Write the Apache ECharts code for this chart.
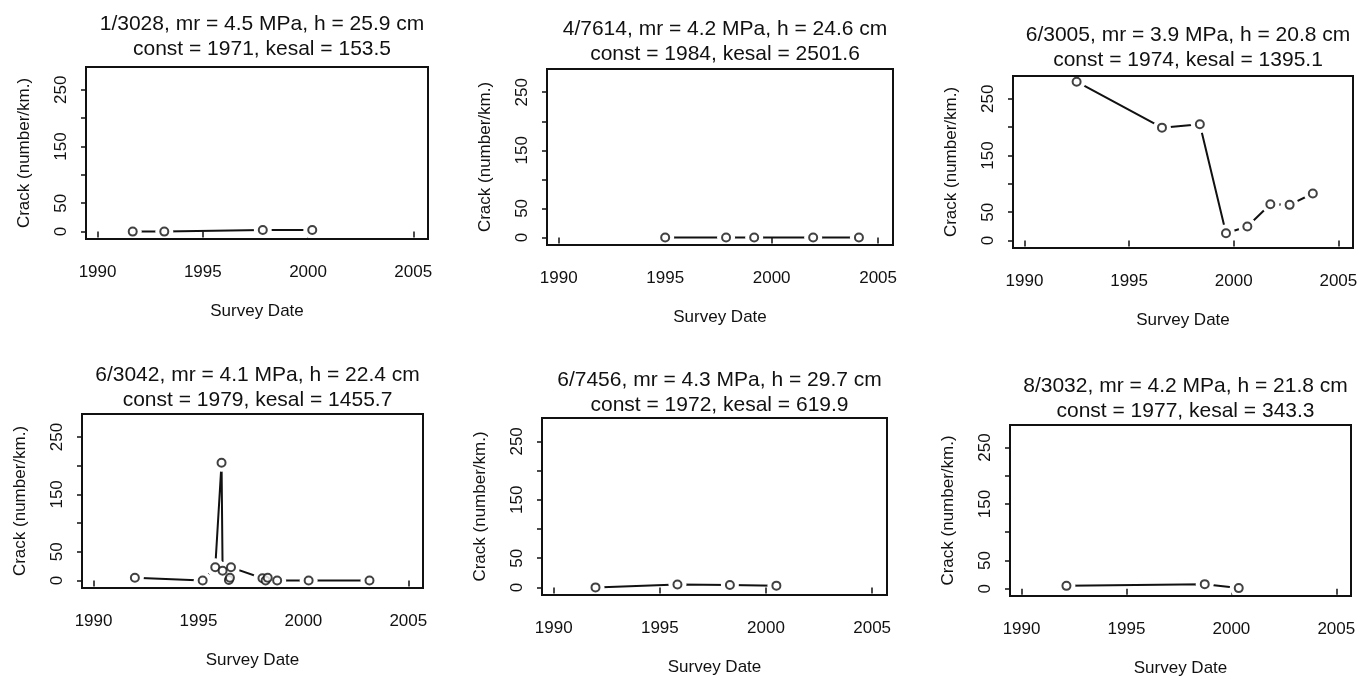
<!DOCTYPE html>
<html>
<head>
<meta charset="utf-8">
<script src="https://cdn.jsdelivr.net/npm/echarts@6/dist/echarts.min.js"></script>
<style>
html,body{margin:0;padding:0;background:#fff;}
#chart{width:1361px;height:678px;}
</style>
</head>
<body>
<div id="chart"></div>
<script>
// ---- data ----
const panelTitles = [
  "1/3028, mr = 4.5 MPa, h = 25.9 cm\nconst = 1971, kesal = 153.5",
  "4/7614, mr = 4.2 MPa, h = 24.6 cm\nconst = 1984, kesal = 2501.6",
  "6/3005, mr = 3.9 MPa, h = 20.8 cm\nconst = 1974, kesal = 1395.1",
  "6/3042, mr = 4.1 MPa, h = 22.4 cm\nconst = 1979, kesal = 1455.7",
  "6/7456, mr = 4.3 MPa, h = 29.7 cm\nconst = 1972, kesal = 619.9",
  "8/3032, mr = 4.2 MPa, h = 21.8 cm\nconst = 1977, kesal = 343.3"
];
const p1Years = [1991.67, 1993.17, 1997.85, 2000.2];
const p1Crack = [0, 0, 3, 3];
const p2Years = [1995.0, 1997.86, 1999.18, 2001.95, 2004.1];
const p2Crack = [0, 0, 0, 0, 0];
const p3Years = [1992.49, 1996.57, 1998.38, 1999.63, 2000.65, 2001.75, 2002.67, 2003.78];
const p3Crack = [280, 199, 205, 13, 25, 64, 63, 83];
const p4Years = [1991.97, 1995.2, 1995.8, 1996.1, 1996.15, 1996.45, 1996.5, 1996.55, 1998.05, 1998.2, 1998.3, 1998.75, 2000.25, 2003.15];
const p4Crack = [5, 0, 23, 205, 17, 1, 5, 23, 4, 0, 5, 0, 0, 0];
const p5Years = [1991.97, 1995.83, 1998.3, 2000.49];
const p5Crack = [0, 5, 4, 3];
const p6Years = [1992.14, 1998.73, 2000.35];
const p6Crack = [5, 8, 1];

const xTickLabels = [1990, 1995, 2000, 2005];
const yTickValues = [0, 50, 100, 150, 200, 250];
const yTickLabels = [0, 50, 150, 250];
const xAxisTitle = "Survey Date";
const yAxisTitle = "Crack (number/km.)";

// ---- layout ----
const gridBoxes = [
  {left: 86,   top: 67,  width: 342, height: 172, titleTop: 7},
  {left: 547,  top: 69,  width: 346, height: 176, titleTop: 12},
  {left: 1013, top: 76,  width: 340, height: 172, titleTop: 18},
  {left: 82,   top: 414, width: 341, height: 174, titleTop: 358},
  {left: 542,  top: 418, width: 345, height: 177, titleTop: 363},
  {left: 1010, top: 425, width: 341, height: 172, titleTop: 369}
];
const panelYears = [p1Years, p2Years, p3Years, p4Years, p5Years, p6Years];
const panelCrack = [p1Crack, p2Crack, p3Crack, p4Crack, p5Crack, p6Crack];

const FONT = "'Liberation Sans', Arial, Helvetica, sans-serif";
const INK = '#111';

const option = {
  animation: false,
  backgroundColor: '#fff',
  title: [], grid: [], xAxis: [], yAxis: [], series: []
};

gridBoxes.forEach((g, i) => {
  option.title.push({
    text: panelTitles[i],
    left: g.left + g.width / 2,
    top: g.titleTop,
    textAlign: 'center',
    textStyle: {fontFamily: FONT, fontSize: 21, fontWeight: 'normal', color: INK, lineHeight: 25}
  });
  option.grid.push({
    left: g.left, top: g.top, width: g.width, height: g.height,
    show: true, borderColor: INK, borderWidth: 2, backgroundColor: 'transparent', z: 10
  });
  option.xAxis.push({
    type: 'value', gridIndex: i, min: 1989.45, max: 2005.7,
    axisLine: {show: false},
    splitLine: {show: false},
    axisTick: {show: true, inside: false, length: 6, customValues: xTickLabels, lineStyle: {color: INK, width: 1.5}},
    axisLabel: {customValues: xTickLabels, formatter: v => String(v), margin: 25, fontFamily: FONT, fontSize: 17, color: INK},
    name: xAxisTitle, nameLocation: 'middle', nameGap: 64,
    nameTextStyle: {fontFamily: FONT, fontSize: 17, color: INK}
  });
  option.yAxis.push({
    type: 'value', gridIndex: i, min: -13, max: 290,
    axisLine: {show: false},
    splitLine: {show: false},
    axisTick: {show: true, inside: false, length: 5, customValues: yTickValues, lineStyle: {color: INK, width: 1.5}},
    axisLabel: {customValues: yTickLabels, formatter: v => String(v), rotate: 90, margin: 16, fontFamily: FONT, fontSize: 17, color: INK},
    name: yAxisTitle, nameLocation: 'middle', nameGap: 53, nameRotate: 90,
    nameTextStyle: {fontFamily: FONT, fontSize: 17, color: INK}
  });
  const pts = panelYears[i].map((yr, k) => [yr, panelCrack[i][k]]);
  option.series.push({
    type: 'line', xAxisIndex: i, yAxisIndex: i, data: pts, symbol: 'none', silent: true, z: 2,
    lineStyle: {color: INK, width: 2}
  });
  option.series.push({
    type: 'scatter', xAxisIndex: i, yAxisIndex: i, data: pts, symbol: 'circle', symbolSize: 18, silent: true, z: 3,
    itemStyle: {color: '#fff', opacity: 1}
  });
  option.series.push({
    type: 'scatter', xAxisIndex: i, yAxisIndex: i, data: pts, symbol: 'circle', symbolSize: 8, silent: true, z: 4,
    itemStyle: {color: '#fff', borderColor: INK, borderWidth: 2}
  });
});

const chart = echarts.init(document.getElementById('chart'), null, {renderer: 'canvas'});
chart.setOption(option);
</script>
</body>
</html>
